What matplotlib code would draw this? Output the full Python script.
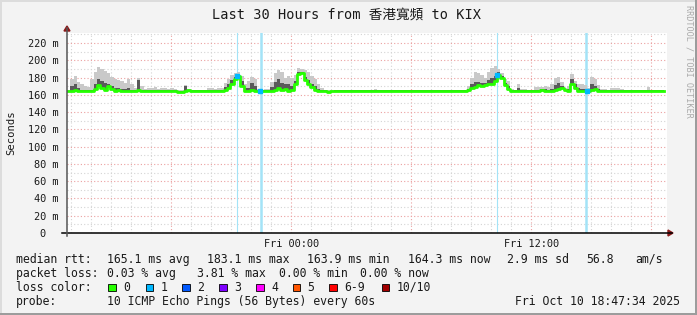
import numpy as np
import pandas as pd
import matplotlib.pyplot as plt
import matplotlib.dates as mdates
from matplotlib.ticker import FuncFormatter, MultipleLocator
from matplotlib.patches import Rectangle, Polygon
from matplotlib.lines import Line2D

# ---- data (one sample every 10 min, in ms) ----
start = pd.Timestamp('2025-10-09 12:47:34')
end = pd.Timestamp('2025-10-10 18:47:34')

median = [
    165, 165, 166, 165, 165, 165, 165, 165, 167, 171,
    168, 166, 170, 167, 165, 166, 165, 165, 165, 165,
    165, 166, 165, 165, 165, 165, 165, 165, 165, 165,
    165, 165, 164, 163, 163, 164, 166, 165, 165, 165,
    165, 165, 165, 165, 165, 165, 165, 166, 168, 173,
    178, 182, 170, 165, 165, 166, 165, 165, 165, 165,
    165, 165, 166, 168, 166, 167, 165, 166, 173, 184,
    185, 177, 173, 169, 166, 165, 165, 164, 163, 164,
    165, 165, 165, 165, 165, 165, 165, 165, 165, 165,
    165, 165, 165, 165, 165, 164, 165, 165, 165, 164,
    165, 165, 164, 165, 165, 165, 164, 165, 165, 165,
    165, 165, 165, 165, 165, 165, 165, 165, 165, 165,
    166, 168, 169, 171, 170, 171, 172, 173, 176, 183,
    180, 171, 167, 165, 165, 165, 165, 165, 165, 165,
    165, 165, 166, 165, 165, 165, 166, 167, 168, 166,
    165, 172, 168, 165, 165, 165, 165, 166, 167, 165,
    165, 165, 165, 165, 165, 165, 165, 165, 165, 165,
    165, 165, 165, 165, 164, 165, 165, 165, 165, 165,
]

smoke_dark = [
    165, 170, 172, 168, 166, 166, 166, 166, 172, 178,
    176, 174, 172, 170, 168, 168, 167, 167, 168, 166,
    166, 177, 166, 166, 166, 166, 166, 166, 166, 166,
    166, 166, 166, 165, 165, 170, 166, 166, 166, 166,
    166, 166, 166, 166, 166, 166, 166, 169, 172, 177,
    181, 183, 176, 168, 168, 174, 170, 166, 166, 166,
    166, 169, 175, 178, 174, 172, 173, 170, 176, 186,
    187, 181, 177, 173, 170, 167, 166, 166, 165, 165,
    166, 166, 166, 166, 166, 166, 166, 166, 166, 166,
    166, 166, 166, 166, 166, 166, 166, 166, 166, 166,
    166, 166, 166, 166, 166, 166, 166, 166, 166, 166,
    166, 166, 166, 166, 166, 166, 166, 166, 166, 166,
    167, 172, 175, 175, 174, 174, 177, 180, 182, 187,
    182, 174, 170, 166, 166, 168, 166, 166, 166, 166,
    166, 166, 167, 167, 166, 167, 171, 174, 170, 166,
    167, 178, 172, 168, 167, 167, 166, 172, 170, 167,
    166, 166, 166, 166, 166, 166, 166, 166, 166, 166,
    166, 166, 166, 166, 166, 166, 166, 166, 166, 166,
]

smoke_top = [
    166, 178, 182, 175, 173, 170, 169, 178, 186, 192,
    190, 188, 185, 181, 178, 177, 176, 174, 178, 172,
    168, 179, 170, 167, 168, 168, 169, 167, 168, 168,
    167, 168, 167, 166, 166, 171, 167, 166, 166, 166,
    166, 166, 168, 168, 167, 168, 168, 174, 178, 183,
    185, 186, 182, 172, 176, 181, 178, 167, 166, 167,
    167, 175, 185, 189, 186, 180, 182, 179, 183, 191,
    190, 189, 186, 182, 178, 172, 168, 166, 166, 166,
    166, 166, 166, 166, 166, 166, 166, 166, 166, 166,
    166, 166, 167, 166, 166, 166, 166, 166, 166, 166,
    166, 166, 166, 166, 166, 166, 166, 166, 166, 166,
    166, 166, 166, 166, 166, 166, 166, 166, 166, 166,
    170, 180, 187, 185, 183, 180, 186, 191, 193, 190,
    185, 178, 176, 167, 166, 172, 167, 167, 166, 166,
    169, 169, 169, 170, 169, 172, 179, 181, 175, 168,
    170, 184, 176, 172, 172, 171, 168, 181, 178, 171,
    167, 167, 166, 168, 168, 168, 167, 166, 166, 166,
    166, 166, 166, 166, 169, 166, 166, 166, 166, 166,
]

times = pd.date_range(start, periods=len(median), freq='10min')

loss_times = ['2025-10-09 21:17:34', '2025-10-09 22:29:34',
              '2025-10-10 10:16:40', '2025-10-10 14:44:34']
loss_widths = [0.8, 1.8, 0.8, 1.8]

loss_labels = ['0', '1', '2', '3', '4', '5', '6-9', '10/10']
loss_colors = ['#26ff00', '#00b8ff', '#0059ff', '#7e00ff',
               '#ff00ff', '#ff5500', '#ff0000', '#a10000']

W, H = 697, 315
MONO = 'DejaVu Sans Mono'


def fx(px):
    return px / W


def fy(py):
    return 1 - py / H


fig = plt.figure(figsize=(W / 100, H / 100), dpi=100, facecolor='#f3f3f3')
ax = fig.add_axes([fx(67), fy(233), 600 / W, 200 / H])
ax.set_facecolor('white')

# loss markers
for t, lw in zip(loss_times, loss_widths):
    ax.axvline(pd.Timestamp(t), color='#a3e3f7', lw=lw, zorder=1)

# smoke + median
ax.fill_between(times, median, smoke_top, step='post', color='#c9c9c9', lw=0, zorder=2)
ax.fill_between(times, median, smoke_dark, step='post', color='#5a5a5a', lw=0, zorder=3)
ax.step(times, median, where='post', color='#26ff00', lw=2.0, zorder=4)

for t in loss_times:
    i = int(round((pd.Timestamp(t) - start) / pd.Timedelta('10min')))
    ax.plot(times[i], median[i], 's', ms=2.2, color='#00b8ff', zorder=5)

ax.set_xlim(start, end)
ax.set_ylim(0, 231.6)

ax.yaxis.set_major_locator(MultipleLocator(20))
ax.yaxis.set_minor_locator(MultipleLocator(10))
ax.yaxis.set_major_formatter(FuncFormatter(lambda v, p: '0  ' if v == 0 else f'{v:.0f} m'))
ax.xaxis.set_major_locator(mdates.HourLocator(byhour=[0, 6, 12, 18]))
ax.xaxis.set_minor_locator(mdates.HourLocator())
ax.xaxis.set_major_formatter(FuncFormatter(
    lambda v, p: mdates.num2date(v).strftime('%a %H:%M') if mdates.num2date(v).hour in (0, 12) else ''))

ax.grid(which='minor', color='#d4d4d4', ls=(0, (1, 2)), lw=0.8, zorder=0)
ax.grid(which='major', color='#eba0a0', ls=(0, (1, 2)), lw=0.8, zorder=0)
ax.set_axisbelow(True)

ax.tick_params(which='both', length=0)
ax.tick_params(axis='y', pad=6)
ax.tick_params(axis='x', pad=4)
for lab in ax.get_yticklabels() + ax.get_xticklabels():
    lab.set_family(MONO)
    lab.set_fontsize(7.4)
    lab.set_color('#1a1a1a')

for s in ax.spines.values():
    s.set_visible(False)

# axes lines with arrows
fig.add_artist(Line2D([fx(62), fx(672)], [fy(233), fy(233)], color='black', lw=1.1))
fig.add_artist(Line2D([fx(67), fx(67)], [fy(236), fy(28)], color='#555555', lw=1.1))
fig.add_artist(Polygon([[fx(668), fy(230)], [fx(668), fy(236)], [fx(673), fy(233)]],
                       closed=True, color='#8b1a1a'))
fig.add_artist(Polygon([[fx(64), fy(31)], [fx(70), fy(31)], [fx(67), fy(26)]],
                       closed=True, color='#8b1a1a'))

fig.text(fx(11), fy(133), 'Seconds', rotation=90, ha='center', va='center',
         family=MONO, fontsize=7.6, color='#1a1a1a')

fig.text(fx(347), fy(15), 'Last 30 Hours from 香港寬頻 to KIX', ha='center', va='center',
         family=[MONO, 'Noto Sans CJK TC'], fontsize=9.8, color='#1a1a1a')

fig.text(fx(689), fy(5), 'RRDTOOL / TOBI OETIKER', rotation=270, ha='center', va='top',
         family=MONO, fontsize=6.1, color='#aaaaaa')

# legend
legend_rows = [
    (259.3, [(16, 'median rtt:'), (107.3, '165.1 ms avg'), (207.3, '183.1 ms max'),
             (307.3, '163.9 ms min'), (408, '164.3 ms now'), (506.7, '2.9 ms sd'),
             (586, '56.8'), (635, 'am/s')]),
    (273.3, [(16, 'packet loss:'), (107.3, '0.03 % avg'), (196.7, '3.81 % max'),
             (279.3, '0.00 % min'), (360, '0.00 % now')]),
    (287.2, [(16, 'loss color:')]),
    (301.7, [(16, 'probe:'), (107.3, '10 ICMP Echo Pings (56 Bytes) every 60s')]),
]
for y, items in legend_rows:
    for x, s in items:
        fig.text(fx(x), fy(y), s, ha='left', va='center', family=MONO,
                 fontsize=8.3, color='#1a1a1a')
fig.text(fx(680), fy(301.7), 'Fri Oct 10 18:47:34 2025', ha='right', va='center',
         family=MONO, fontsize=8.3, color='#1a1a1a')

box_x = [108, 145.7, 182.3, 219, 256, 292.7, 329.3, 381.7]
for bx, lab, col in zip(box_x, loss_labels, loss_colors):
    fig.add_artist(Rectangle((fx(bx), fy(291)), 7.5 / W, 7.5 / H, facecolor=col,
                             edgecolor='black', lw=0.6))
    fig.text(fx(bx + 15), fy(287.2), lab, ha='left', va='center', family=MONO,
             fontsize=8.3, color='#1a1a1a')

# frame
fig.add_artist(Rectangle((0, 0), fx(2), 1, color='#dcdcdc', lw=0))
fig.add_artist(Rectangle((0, fy(2)), 1, 2 / H, color='#dcdcdc', lw=0))
fig.add_artist(Rectangle((fx(695), 0), 2 / W, 1, color='#9c9c9c', lw=0))
fig.add_artist(Rectangle((0, 0), 1, 2 / H, color='#9c9c9c', lw=0))

fig.savefig('out.png', dpi=100, facecolor=fig.get_facecolor())
